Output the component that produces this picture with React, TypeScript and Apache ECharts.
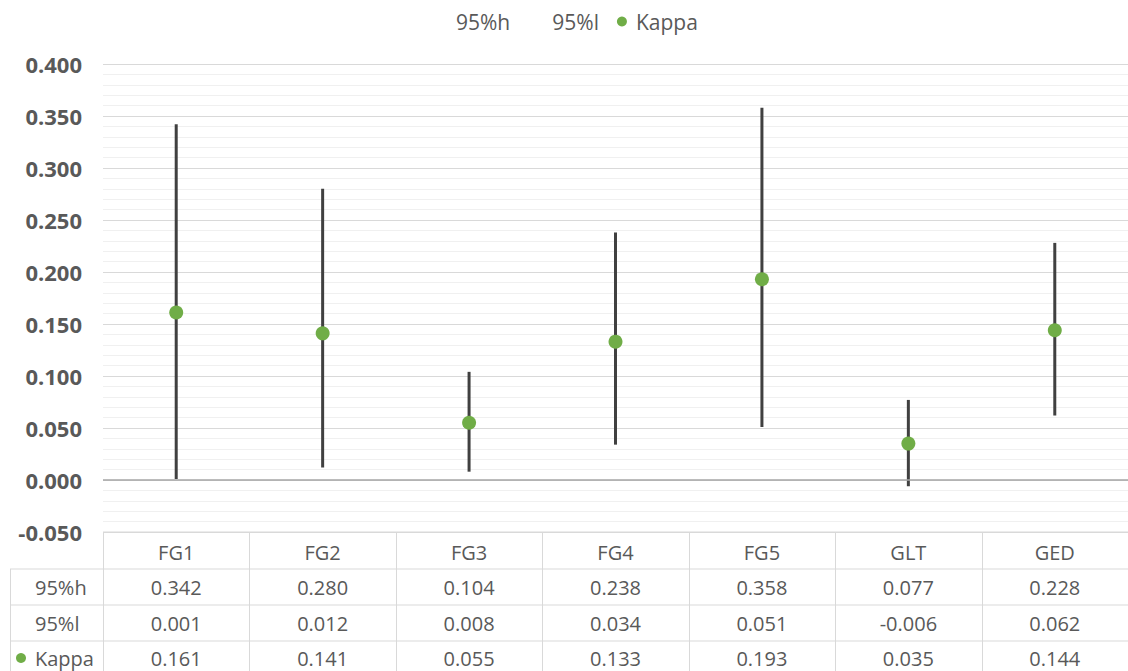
import React, { useEffect, useRef } from "react";
import * as echarts from "echarts";

const categories = ["FG1", "FG2", "FG3", "FG4", "FG5", "GLT", "GED"];
const high = [0.342, 0.28, 0.104, 0.238, 0.358, 0.077, 0.228];
const low = [0.001, 0.012, 0.008, 0.034, 0.051, -0.006, 0.062];
const kappa = [0.161, 0.141, 0.055, 0.133, 0.193, 0.035, 0.144];
const rowNames = ["95%h", "95%l", "Kappa"];
const Y_MIN = -0.05;
const Y_MAX = 0.4;
const Y_INTERVAL = 0.05;

const W = 1128;
const H = 671;
const GRID_LEFT = 103;
const GRID_TOP = 64;
const GRID_H = 468;
const FONT = "'Open Sans', 'Noto Sans', sans-serif";
const TEXT = "#595959";
const GRID_COLOR = "#d9d9d9";
const GREEN = "#70ad47";

export default function App() {
  const ref = useRef<HTMLDivElement>(null);
  useEffect(() => {
    if (!ref.current) return;
    const chart = echarts.init(ref.current, undefined, { renderer: "svg" });
    const colW = (W - GRID_LEFT) / categories.length;
    const tableTop = GRID_TOP + GRID_H;
    const rowLines = [569, 605, 641];
    const rowCenters = [587, 623, 658];
    const graphics: any[] = [];
    const ls = { stroke: GRID_COLOR, lineWidth: 1 };
    graphics.push({ type: "line", shape: { x1: GRID_LEFT, y1: tableTop, x2: W, y2: tableTop }, style: ls, silent: true });
    rowLines.forEach((y) =>
      graphics.push({ type: "line", shape: { x1: 10, y1: y, x2: W, y2: y }, style: ls, silent: true })
    );
    for (let i = 0; i <= categories.length; i++) {
      const x = Math.round(GRID_LEFT + i * colW) + 0.5;
      graphics.push({ type: "line", shape: { x1: x, y1: tableTop, x2: x, y2: H }, style: ls, silent: true });
    }
    graphics.push({ type: "line", shape: { x1: 10.5, y1: rowLines[0], x2: 10.5, y2: H }, style: ls, silent: true });
    const rows = [high, low, kappa];
    rows.forEach((vals, r) => {
      graphics.push({
        type: "text",
        x: 35,
        y: rowCenters[r],
        style: { text: rowNames[r], fill: TEXT, font: `20px ${FONT}`, textAlign: "left", textVerticalAlign: "middle" },
        silent: true,
      });
      vals.forEach((v, i) => {
        graphics.push({
          type: "text",
          x: GRID_LEFT + (i + 0.5) * colW,
          y: rowCenters[r],
          style: { text: v.toFixed(3), fill: TEXT, font: `20px ${FONT}`, textAlign: "center", textVerticalAlign: "middle" },
          silent: true,
        });
      });
    });
    graphics.push({ type: "circle", shape: { cx: 21, cy: rowCenters[2], r: 5 }, style: { fill: GREEN }, silent: true });

    chart.setOption({
      animation: false,
      backgroundColor: "#ffffff",
      textStyle: { fontFamily: FONT },
      legend: {
        top: 6,
        left: 436,
        itemWidth: 10,
        itemHeight: 10,
        itemGap: 18,
        textStyle: { fontSize: 21, color: TEXT, fontFamily: FONT },
        data: [
          { name: "95%h", icon: "rect", itemStyle: { color: "rgba(0,0,0,0)", opacity: 0 } },
          {
            name: "95%l",
            icon: "rect",
            itemStyle: { color: "rgba(0,0,0,0)", opacity: 0 },
            textStyle: { padding: [0, 0, 0, 9] },
          },
          { name: "Kappa", icon: "circle", itemStyle: { color: GREEN }, textStyle: { padding: [0, 0, 0, 4] } },
        ],
      },
      grid: { left: GRID_LEFT, top: GRID_TOP, width: W - GRID_LEFT, height: GRID_H },
      xAxis: {
        type: "category",
        data: categories,
        boundaryGap: true,
        axisLine: { show: false, onZero: false },
        axisTick: { show: false },
        splitLine: { show: false },
        axisLabel: { color: TEXT, fontSize: 20, lineHeight: 20, margin: 10, fontFamily: FONT },
      },
      yAxis: {
        type: "value",
        min: Y_MIN,
        max: Y_MAX,
        interval: Y_INTERVAL,
        axisLine: { show: false },
        axisTick: { show: false },
        axisLabel: {
          color: TEXT,
          fontSize: 22,
          fontWeight: "bold",
          fontFamily: FONT,
          margin: 21,
          formatter: (v: number) => v.toFixed(3),
        },
        splitLine: { show: true, lineStyle: { color: GRID_COLOR, width: 1 } },
        minorTick: { show: false, splitNumber: 5 },
        minorSplitLine: { show: true, lineStyle: { color: "#f0f0f0", width: 1 } },
      },
      graphic: graphics,
      series: [
        {
          name: "95%h",
          type: "line",
          data: high,
          showSymbol: false,
          lineStyle: { width: 0, opacity: 0 },
          itemStyle: { color: "rgba(0,0,0,0)" },
          silent: true,
        },
        {
          name: "95%l",
          type: "line",
          data: low,
          showSymbol: false,
          lineStyle: { width: 0, opacity: 0 },
          itemStyle: { color: "rgba(0,0,0,0)" },
          silent: true,
        },
        {
          name: "hilo",
          type: "custom",
          data: categories.map((_, i) => [i, low[i], high[i]]),
          encode: { x: 0, y: [1, 2] },
          z: 3,
          renderItem: (params: any, api: any) => {
            const x = api.value(0);
            const p1 = api.coord([x, api.value(1)]);
            const p2 = api.coord([x, api.value(2)]);
            return {
              type: "line",
              shape: { x1: p1[0], y1: p1[1], x2: p2[0], y2: p2[1] },
              style: { stroke: "#404040", lineWidth: 3 },
            };
          },
          markLine: {
            silent: true,
            symbol: "none",
            label: { show: false },
            lineStyle: { color: "#a6a6a6", width: 1.5, type: "solid" },
            data: [{ yAxis: 0 }],
          },
        },
        {
          name: "Kappa",
          type: "scatter",
          data: kappa,
          symbol: "circle",
          symbolSize: 14,
          itemStyle: { color: GREEN, opacity: 1 },
          z: 5,
        },
      ],
    });
    return () => chart.dispose();
  }, []);
  return (
    <div
      ref={ref}
      style={{ position: "fixed", left: 0, top: 0, width: W, height: H, background: "#fff" }}
    />
  );
}
